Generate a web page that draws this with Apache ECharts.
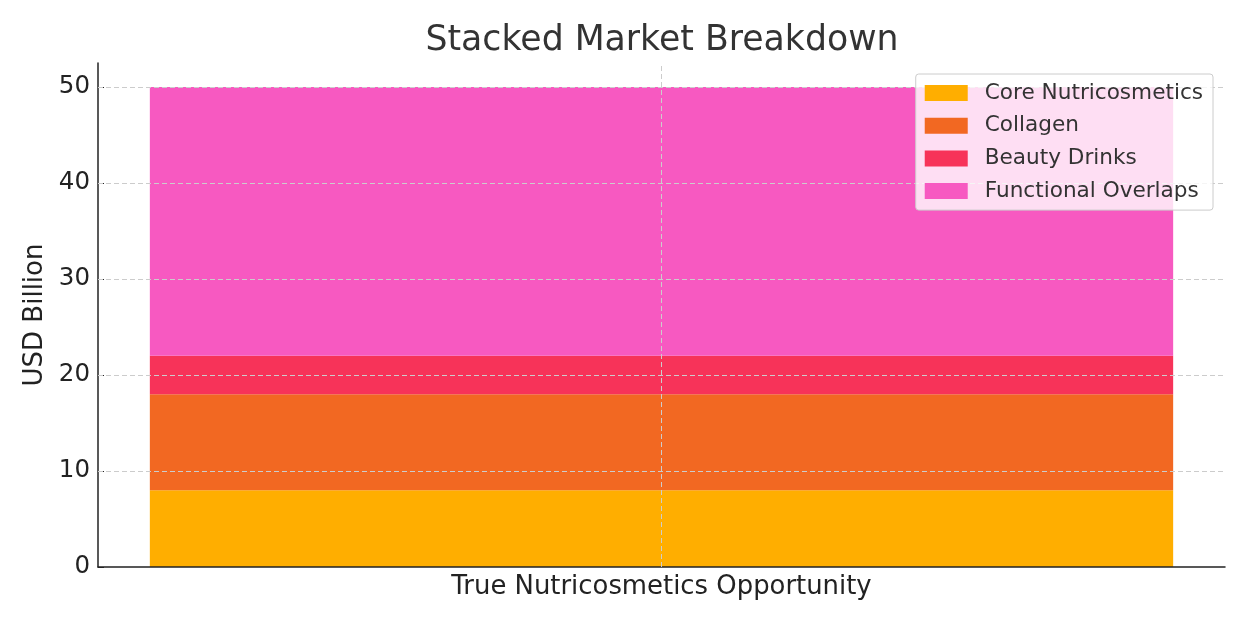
<!DOCTYPE html>
<html><head><meta charset="utf-8">
<script src="https://cdn.jsdelivr.net/npm/echarts@6/dist/echarts.min.js"></script>
<style>html,body{margin:0;padding:0;background:#fff}#c{width:1248px;height:624px}</style>
</head><body><div id="c"></div>
<script>
const categories = ['True Nutricosmetics Opportunity'];
const seriesNames = ['Core Nutricosmetics', 'Collagen', 'Beauty Drinks', 'Functional Overlaps'];
const coreValues = [8];
const collagenValues = [10];
const drinksValues = [4];
const overlapValues = [28];
const yTicks = [0, 10, 20, 30, 40, 50];

const colors = ['#FFAE00', '#F26822', '#F73359', '#F759C1'];
const dataSets = [coreValues, collagenValues, drinksValues, overlapValues];
const font = 'DejaVu Sans';
const gridStyle = { color: '#cccccc', type: [5, 3], width: 1 };

const series = seriesNames.map((n, i) => ({
  name: n, type: 'bar', stack: 'total', data: dataSets[i],
  barWidth: '90.8%', itemStyle: { color: colors[i] },
  emphasis: { disabled: true }
}));
series[3].markLine = {
  silent: true, symbol: 'none', label: { show: false },
  lineStyle: gridStyle, emphasis: { disabled: true },
  data: [{ xAxis: categories[0] }].concat(yTicks.filter(v => v > 0).map(v => ({ yAxis: v })))
};

const chart = echarts.init(document.getElementById('c'), null, { renderer: 'canvas' });
chart.setOption({
  animation: false,
  backgroundColor: '#fff',
  title: { text: 'Stacked Market Breakdown', left: 657, top: 18, textAlign: 'center',
    textStyle: { fontFamily: font, fontSize: 34.7, fontWeight: 'normal', color: '#333' } },
  grid: { left: 98, right: 23, top: 63, bottom: 57 },
  legend: {
    right: 35, top: 74, orient: 'vertical', itemWidth: 43, itemHeight: 16, itemGap: 10.7,
    padding: [8, 10, 8, 9], backgroundColor: 'rgba(255,255,255,0.8)',
    borderColor: '#cccccc', borderWidth: 1, borderRadius: 3,
    icon: 'rect', z: 10,
    textStyle: { fontFamily: font, fontSize: 21.6, color: '#333', padding: [0, 0, 0, 12] },
    data: seriesNames
  },
  xAxis: {
    type: 'category', data: categories, z: 4,
    axisLine: { lineStyle: { color: '#222', width: 1.5 } },
    axisTick: { inside: true, alignWithLabel: true, length: 7, lineStyle: { color: '#222' } },
    axisLabel: { fontFamily: font, fontSize: 25.9, color: '#222', margin: 7 },
    splitLine: { show: false }
  },
  yAxis: {
    type: 'value', min: 0, max: 52.5, z: 4,
    name: 'USD Billion', nameLocation: 'middle', nameGap: 48,
    nameTextStyle: { fontFamily: font, fontSize: 26, color: '#222' },
    axisLine: { show: true, lineStyle: { color: '#222', width: 1.5 } },
    axisTick: { show: true, inside: true, length: 6, lineStyle: { color: '#222' }, customValues: yTicks },
    axisLabel: { fontFamily: font, fontSize: 24.5, color: '#222', margin: 8, padding: [4, 0, 0, 0], customValues: yTicks },
    splitLine: { show: false }
  },
  series: series
});
</script></body></html>
